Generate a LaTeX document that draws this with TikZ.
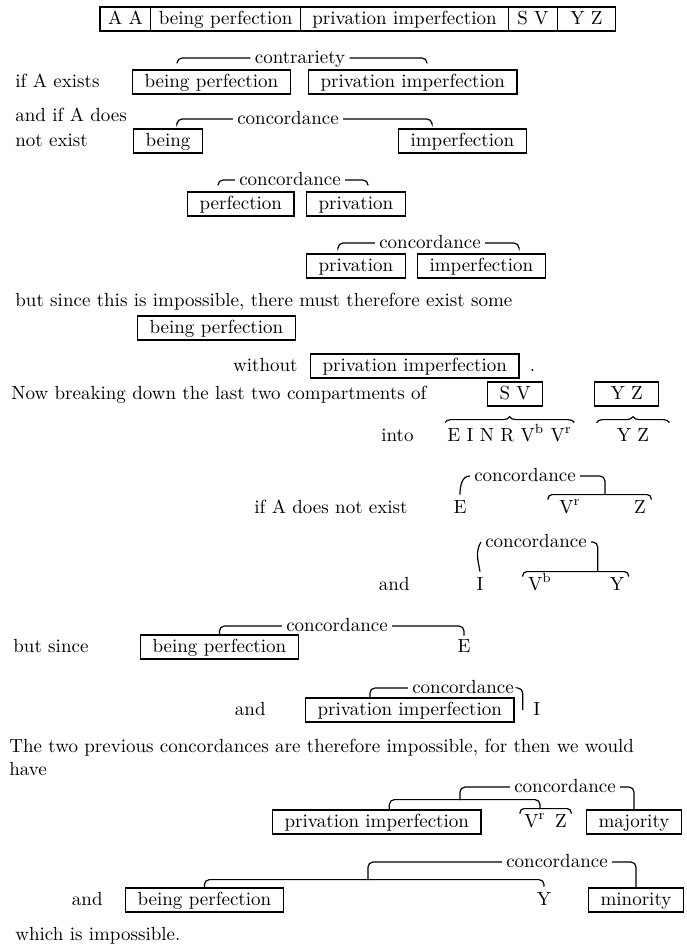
\documentclass[tikz,border=0pt]{standalone}
\usepackage{tikz}
\usetikzlibrary{positioning,calc,decorations.pathreplacing}
\tikzset{txt/.style={inner sep=1pt,text height=7pt,text depth=2pt},
  box/.style={txt,draw,line width=.6pt,inner xsep=6pt,inner ysep=1.5pt},
  cell/.style={txt,draw,line width=.6pt,inner xsep=4pt,inner ysep=1.5pt,outer sep=0pt},
  lbl/.style={txt,inner xsep=2pt},
  lnk/.style={line width=.6pt,rounded corners=2.5pt},
  brc/.style={line width=.6pt,decorate,decoration={brace,amplitude=3pt}}}

\begin{document}
\begin{tikzpicture}[x=0.5pt,y=-0.5pt,font=\fontsize{9.5pt}{11pt}\selectfont]
\useasboundingbox (0,0) rectangle (687,950);
% the five compartments
\node[cell,anchor=west] (aa) at (100,19) {A A};
\node[cell,right=0pt of aa] (tbp) {being perfection};
\node[cell,right=0pt of tbp,minimum width=104pt] (tpi) {privation imperfection};
\node[cell,right=0pt of tpi,minimum width=24.5pt] (tsv) {S V};
\node[cell,right=0pt of tsv,minimum width=29pt] (tyz) {Y Z};

\node[txt,anchor=west] (t1) at (13,82) {if A exists};
\node[box,anchor=west] (bp1) at (132,82) {being perfection};
\node[box,anchor=west] (pi1) at (308,82) {privation imperfection};
\node[lbl] (c1) at (300,58) {contrariety};
\draw[lnk] ([xshift=22.5pt,yshift=3pt]bp1.north west) |- (c1.west);
\draw[lnk] (c1.east) -| ([xshift=59.5pt,yshift=3pt]pi1.north west);

\node[txt,anchor=west] (t2) at (13,116) {and if A does};
\node[txt,anchor=west] (t3) at (13,141) {not exist};
\node[box,anchor=west] (b2) at (133,141) {being};
\node[box,anchor=west] (im2) at (398,141) {imperfection};
\node[lbl] (c2) at (288,119) {concordance};
\draw[lnk] ([xshift=22pt,yshift=3pt]b2.north west) |- (c2.west);
\draw[lnk] (c2.east) -| ([xshift=17pt,yshift=3pt]im2.north west);

\node[box,anchor=west] (pf3) at (187,204) {perfection};
\node[box,anchor=west] (pv3) at (306,204) {privation};
\node[lbl] (c3) at (290,180) {concordance};
\draw[lnk] ([xshift=15.5pt,yshift=3pt]pf3.north west) |- (c3.west);
\draw[lnk] (c3.east) -| ([xshift=31pt,yshift=3pt]pv3.north west);

\node[box,anchor=west] (pv4) at (306,266) {privation};
\node[box,anchor=west] (im4) at (417,266) {imperfection};
\node[lbl] (c4) at (430,243) {concordance};
\draw[lnk] ([xshift=16pt,yshift=3pt]pv4.north west) |- (c4.west);
\draw[lnk] (c4.east) -| ([xshift=51pt,yshift=3pt]im4.north west);

\node[txt,anchor=west] (t4) at (13,301) {but since this is impossible, there must therefore exist some};
\node[box,anchor=west] (bp5) at (137,328) {being perfection};
\node[box,anchor=west] (pi5) at (310,366) {privation imperfection};
\node[txt,left=5pt of pi5] (t5) {without};
\node[txt,right=4pt of pi5] (t6) {.};

% S V and Y Z broken down
\node[txt,anchor=west] (t7) at (9,394) {Now breaking down the last two compartments of};
\node[box,anchor=west] (sv) at (487,394) {S V};
\node[box,anchor=west,minimum width=32pt] (yz) at (594,394) {Y Z};
\node[txt,anchor=west] (t8) at (379,436) {into};
\node[txt,anchor=west] (ein) at (445,436) {E I N R V\textsuperscript{b} V\textsuperscript{r}};
\node[txt,minimum width=36pt] (yz2) at (633,436) {Y Z};
\draw[brc] ([yshift=1pt]ein.north west) -- ([yshift=1pt]ein.north east);
\draw[brc] ([yshift=1pt]yz2.north west) -- ([yshift=1pt]yz2.north east);

\node[txt,anchor=east] (t9) at (410,508) {if A does not exist};
\node[txt] (e1) at (460,508) {E};
\node[txt] (vr1) at (570,508) {V\textsuperscript{r}};
\node[txt] (z1) at (640,508) {Z};
\node[lbl] (c5) at (525,476) {concordance};
\draw[lnk] ([yshift=1pt]e1.north) to[out=90,in=180] (c5.west);
\draw[lnk,rounded corners=2pt] ([xshift=-4.5pt,yshift=-1.5pt]vr1.north west) |- ([yshift=1pt]z1.north) -| ([xshift=1.5pt,yshift=-1.5pt]z1.north east);
\draw[lnk] (c5.east) -| ([yshift=1pt]$(vr1.north)!.5!(z1.north)$);

\node[txt,anchor=east] (t10) at (412,585) {and};
\node[txt] (i1) at (480,585) {I};
\node[txt] (vb1) at (540,585) {V\textsuperscript{b}};
\node[txt] (y1) at (617,585) {Y};
\node[lbl] (c6) at (536,542) {concordance};
\draw[lnk] ([yshift=1pt]i1.north) to[out=100,in=240] (c6.west);
\draw[lnk,rounded corners=2pt] ([xshift=-1.5pt,yshift=-1.5pt]vb1.north west) |- ([yshift=1pt]y1.north) -| ([xshift=1pt,yshift=-1.5pt]y1.north east);
\draw[lnk] (c6.east) -| ([yshift=1pt]$(vb1.north)!.75!(y1.north)$);

\node[txt,anchor=west] (t11) at (11,647) {but since};
\node[box,anchor=west] (bp6) at (140,647) {being perfection};
\node[txt] (e2) at (464,647) {E};
\node[lbl] (c7) at (337,626) {concordance};
\draw[lnk] (bp6.north) |- (c7.west);
\draw[lnk] (c7.east) -| (e2.north);

\node[txt,anchor=east] (t12) at (268,710) {and};
\node[box,anchor=west] (pi7) at (305,710) {privation imperfection};
\node[txt,anchor=west] (i2) at (531,710) {I};
\node[lbl] (c8) at (463,688) {concordance};
\draw[lnk] ($(pi7.north west)!.31!(pi7.north east)$) |- (c8.west);
\draw[lnk] (c8.east) -| ($(pi7.east)!.5!(i2.west)$);

\node[txt,anchor=west] (t13) at (7,747) {The two previous concordances are therefore impossible, for then we would};
\node[txt,anchor=west] (t14) at (7,770) {have};

\node[box,anchor=west] (pi8) at (272,822) {privation imperfection};
\node[txt] (vr2) at (535,822) {V\textsuperscript{r}};
\node[txt] (z2) at (561,822) {Z};
\node[box,anchor=east] (mj) at (682,822) {majority};
\node[lbl] (c9) at (565,787) {concordance};
\coordinate (k1) at (460,800);
\draw[lnk,rounded corners=2pt] ([xshift=-1pt,yshift=-1.5pt]vr2.north west) |- ([yshift=1pt]z2.north) -| ([xshift=1pt,yshift=-1.5pt]z2.north east);
\draw[lnk] ($(pi8.north west)!.56!(pi8.north east)$) |- ([xshift=2.5pt,yshift=5.5pt]vr2.north) -- ([xshift=2.5pt,yshift=1pt]vr2.north);
\draw[lnk] (k1) |- (c9.west);
\draw[lnk] (c9.east) -| (mj.north);

\node[txt,anchor=east] (t15) at (105,900) {and};
\node[box,anchor=west] (bp9) at (125,900) {being perfection};
\node[txt] (y2) at (544,900) {Y};
\node[box,anchor=east] (mn) at (684,900) {minority};
\node[lbl] (c10) at (557,862) {concordance};
\coordinate (k2) at (368,880);
\draw[lnk] (bp9.north) |- ([yshift=4.5pt]y2.north) -- ([yshift=1pt]y2.north);
\draw[lnk] (k2) |- (c10.west);
\draw[lnk] (c10.east) -| (mn.north);

\node[txt,anchor=west] (t16) at (13,935) {which is impossible.};
\end{tikzpicture}
\end{document}
